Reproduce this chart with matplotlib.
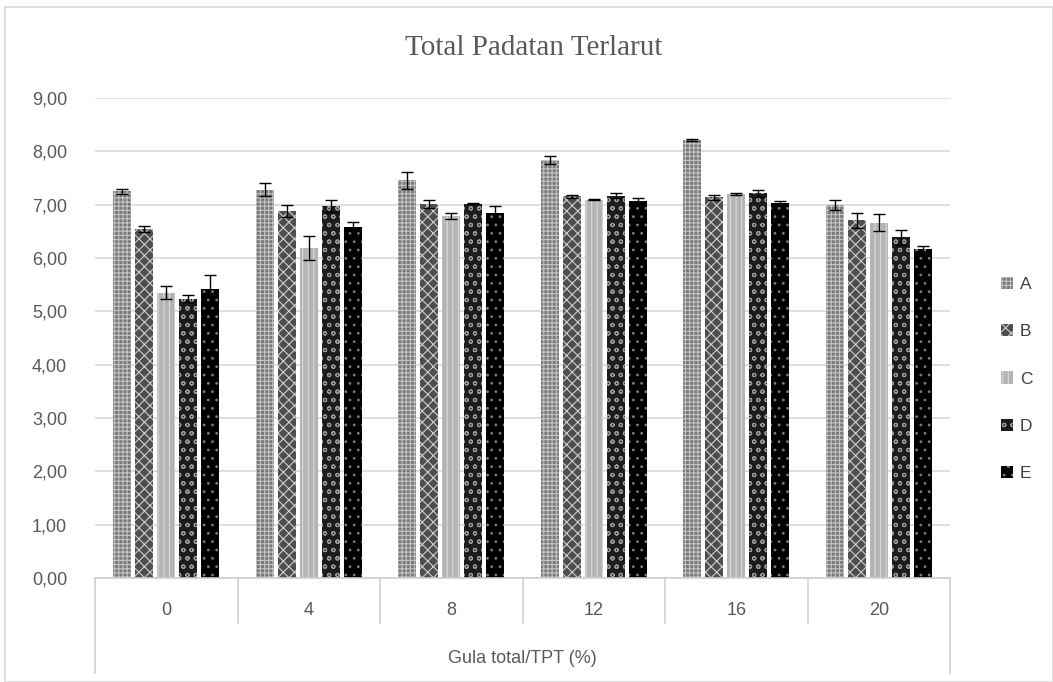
import matplotlib
matplotlib.use("Agg")
import matplotlib.pyplot as plt
import numpy as np
from matplotlib.patches import Rectangle

categories = ["0", "4", "8", "12", "16", "20"]
series_names = ["A", "B", "C", "D", "E"]
A = [7.25, 7.28, 7.46, 7.84, 8.21, 6.99]
B = [6.54, 6.88, 7.01, 7.16, 7.14, 6.71]
C = [5.35, 6.19, 6.79, 7.09, 7.20, 6.66]
D = [5.24, 6.98, 7.02, 7.17, 7.21, 6.39]
E = [5.42, 6.59, 6.84, 7.06, 7.04, 6.16]
A_err = [0.05, 0.12, 0.16, 0.07, 0.02, 0.09]
B_err = [0.06, 0.12, 0.07, 0.03, 0.05, 0.14]
C_err = [0.12, 0.22, 0.06, 0.01, 0.01, 0.16]
D_err = [0.06, 0.11, 0.01, 0.04, 0.06, 0.14]
E_err = [0.26, 0.09, 0.14, 0.07, 0.02, 0.06]
yticks = [0, 1, 2, 3, 4, 5, 6, 7, 8, 9]

values = [A, B, C, D, E]
errors = [A_err, B_err, C_err, D_err, E_err]
styles = [
    dict(facecolor="#7a7a7a", edgecolor="#c4c4c4", hatch="++++"),
    dict(facecolor="#4e4e4e", edgecolor="#cfcfcf", hatch="xxx"),
    dict(facecolor="#b4b4b4", edgecolor="#dadada", hatch="|||"),
    dict(facecolor="#1c1c1c", edgecolor="#9a9a9a", hatch="oo"),
    dict(facecolor="#000000", edgecolor="#7a7a7a", hatch=".."),
]

plt.rcParams["hatch.linewidth"] = 0.8
plt.rcParams["font.family"] = ["Liberation Sans", "DejaVu Sans"]

fig = plt.figure(figsize=(10.53, 6.82), dpi=100)
ax = fig.add_axes([95/1053, 1-578/682, (950-95)/1053, (578-98)/682])

x = np.arange(len(categories))
step = 0.154
width = 0.126
handles = []
for j, (vals, errs, st) in enumerate(zip(values, errors, styles)):
    bars = ax.bar(x + (j-2)*step, vals, width, linewidth=0, zorder=2, label=series_names[j], **st)
    ax.errorbar(x + (j-2)*step, vals, yerr=errs, fmt="none", ecolor="#000000",
                elinewidth=1, capsize=4, capthick=1, zorder=3)
    handles.append(bars)

ax.set_xlim(-0.5, 5.5)
ax.set_ylim(0, 9)
ax.set_yticks(yticks)
ax.set_yticklabels([f"{v:.2f}".replace(".", ",") for v in yticks], fontsize=13, color="#595959")
ax.tick_params(axis="y", length=0, pad=20)
ax.set_xticks([])
ax.grid(axis="y", color="#d9d9d9", linewidth=1.2, zorder=0)
for s in ["top", "right", "left"]:
    ax.spines[s].set_visible(False)
ax.spines["bottom"].set_color("#d0d0d0")
ax.spines["bottom"].set_linewidth(1.2)

tr = ax.get_xaxis_transform()
for i in range(len(categories) + 1):
    xs = i - 0.5
    bottom = -0.197 if i in (0, len(categories)) else -0.094
    ax.plot([xs, xs], [0, bottom], transform=tr, color="#d0d0d0", lw=1.2, clip_on=False)
for i, c in enumerate(categories):
    ax.text(i, -0.067, c, transform=tr, ha="center", va="center", fontsize=13, color="#595959")
ax.text(2.5, -0.167, "Gula total/TPT (%)", transform=tr, ha="center", va="center",
        fontsize=13, color="#595959")

fig.text(0.507, 1-48/682, "Total Padatan Terlarut", ha="center", va="center",
         fontsize=21, color="#595959", family=["Liberation Serif", "DejaVu Serif"])

leg = fig.legend(handles=handles, labels=series_names, loc="center left",
                 bbox_to_anchor=(985/1053, 1-379/682), frameon=False, fontsize=12.5,
                 handlelength=0.7, handleheight=0.7, handletextpad=0.4, labelspacing=1.85)
for t in leg.get_texts():
    t.set_color("#404040")

fig.patches.append(Rectangle((5/1053, 0), 1-5/1053, 1-7/682, transform=fig.transFigure,
                             fill=False, edgecolor="#d9d9d9", linewidth=1.2))

fig.savefig("out.png", dpi=100)
